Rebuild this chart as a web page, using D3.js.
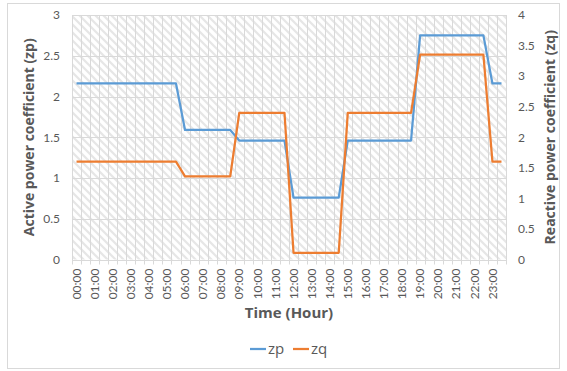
<!DOCTYPE html>
<html>
<head>
<meta charset="utf-8">
<script src="https://cdn.jsdelivr.net/npm/d3@7"></script>
<style>
  html, body { margin: 0; padding: 0; background: #ffffff; }
  svg { display: block; font-family: Lato, "Open Sans", sans-serif; }
</style>
</head>
<body>
<svg id="chart" width="567" height="371"></svg>
<script>
// Half-hour categories over one day
const times = [
  "00:00","00:30","01:00","01:30","02:00","02:30","03:00","03:30",
  "04:00","04:30","05:00","05:30","06:00","06:30","07:00","07:30",
  "08:00","08:30","09:00","09:30","10:00","10:30","11:00","11:30",
  "12:00","12:30","13:00","13:30","14:00","14:30","15:00","15:30",
  "16:00","16:30","17:00","17:30","18:00","18:30","19:00","19:30",
  "20:00","20:30","21:00","21:30","22:00","22:30","23:00","23:30"
];
// Active power coefficient (left axis)
const zp = [
  2.16,2.16,2.16,2.16,2.16,2.16,2.16,2.16,2.16,2.16,2.16,2.16,
  1.59,1.59,1.59,1.59,1.59,1.59,
  1.46,1.46,1.46,1.46,1.46,1.46,
  0.76,0.76,0.76,0.76,0.76,0.76,
  1.46,1.46,1.46,1.46,1.46,1.46,1.46,1.46,
  2.75,2.75,2.75,2.75,2.75,2.75,2.75,2.75,
  2.16,2.16
];
// Reactive power coefficient (right axis)
const zq = [
  1.6,1.6,1.6,1.6,1.6,1.6,1.6,1.6,1.6,1.6,1.6,1.6,
  1.36,1.36,1.36,1.36,1.36,1.36,
  2.4,2.4,2.4,2.4,2.4,2.4,
  0.11,0.11,0.11,0.11,0.11,0.11,
  2.4,2.4,2.4,2.4,2.4,2.4,2.4,2.4,
  3.35,3.35,3.35,3.35,3.35,3.35,3.35,3.35,
  1.6,1.6
];
const leftTicks = [0, 0.5, 1, 1.5, 2, 2.5, 3];
const rightTicks = [0, 0.5, 1, 1.5, 2, 2.5, 3, 3.5, 4];
const seriesNames = ["zp", "zq"];

const colors = { zp: "#5b9bd5", zq: "#ed7d31" };
const textColor = "#595959";
const gridColor = "#d9d9d9";
const titleFont = "'Open Sans', Lato, sans-serif";

const svg = d3.select("#chart");
const plot = { left: 72, right: 506, top: 15, bottom: 259.5 };

const x = d3.scaleBand().domain(d3.range(times.length)).range([plot.left, plot.right]).padding(0);
const yp = d3.scaleLinear().domain([0, 3]).range([plot.bottom, plot.top]);
const yq = d3.scaleLinear().domain([0, 4]).range([plot.bottom, plot.top]);

// Outer chart border
svg.append("rect")
  .attr("x", 7.5).attr("y", 3.5).attr("width", 552).attr("height", 365)
  .attr("fill", "#fff").attr("stroke", gridColor).attr("stroke-width", 1);

// Diagonal hatch fill for the plot area
const defs = svg.append("defs");
const pat = defs.append("pattern")
  .attr("id", "hatch").attr("patternUnits", "userSpaceOnUse")
  .attr("width", 8).attr("height", 8);
pat.append("rect").attr("width", 8).attr("height", 8).attr("fill", "#ffffff");
pat.append("path")
  .attr("d", "M-2,-2 L10,10 M-2,6 L2,10 M6,-2 L10,2")
  .attr("stroke", "#e6e6e6").attr("stroke-width", 2.2);

svg.append("rect")
  .attr("x", plot.left).attr("y", plot.top)
  .attr("width", plot.right - plot.left).attr("height", plot.bottom - plot.top)
  .attr("fill", "url(#hatch)");

// Gridlines
const grid = svg.append("g").attr("stroke", gridColor).attr("stroke-width", 1);
const bounds = d3.range(times.length + 1).map(i => i < times.length ? x(i) : x(times.length - 1) + x.bandwidth());
grid.selectAll("line.v").data(bounds).join("line")
  .attr("x1", d => Math.round(d) + 0.5).attr("x2", d => Math.round(d) + 0.5)
  .attr("y1", plot.top).attr("y2", plot.bottom + 5);
grid.selectAll("line.h").data(leftTicks).join("line")
  .attr("x1", plot.left).attr("x2", plot.right)
  .attr("y1", d => Math.round(yp(d)) + 0.5).attr("y2", d => Math.round(yp(d)) + 0.5);

// Left axis
const leftAxis = svg.append("g")
  .attr("transform", `translate(${plot.left - 12},0)`)
  .call(d3.axisLeft(yp).tickValues(leftTicks).tickSize(0).tickPadding(0).tickFormat(d3.format("")));
leftAxis.select(".domain").remove();
leftAxis.selectAll("text").attr("fill", textColor).style("font-size", "12px").style("font-family", "Lato, sans-serif");

// Right axis
const rightAxis = svg.append("g")
  .attr("transform", `translate(${plot.right + 12},0)`)
  .call(d3.axisRight(yq).tickValues(rightTicks).tickSize(0).tickPadding(0).tickFormat(d3.format("")));
rightAxis.select(".domain").remove();
rightAxis.selectAll("text").attr("fill", textColor).style("font-size", "12px").style("font-family", "Lato, sans-serif");

// Bottom axis: hour labels on every other half-hour category
const hourIdx = d3.range(0, times.length, 2);
const bottomAxis = svg.append("g")
  .attr("transform", `translate(0,${plot.bottom})`)
  .call(d3.axisBottom(x).tickValues(hourIdx).tickSize(0).tickFormat(i => times[i]));
bottomAxis.select(".domain").remove();
bottomAxis.selectAll("text")
  .attr("fill", textColor).style("font-size", "12px").style("font-family", "Lato, sans-serif")
  .attr("text-anchor", "end").attr("dy", "0.35em")
  .attr("transform", "translate(0,9) rotate(-90)")
  .attr("x", 0).attr("y", 0);

// Series lines
const lineP = d3.line().x((d, i) => x(i) + x.bandwidth() / 2).y(d => yp(d));
const lineQ = d3.line().x((d, i) => x(i) + x.bandwidth() / 2).y(d => yq(d));
svg.append("path").datum(zp).attr("d", lineP)
  .attr("fill", "none").attr("stroke", colors.zp).attr("stroke-width", 2.25).attr("stroke-linejoin", "round");
svg.append("path").datum(zq).attr("d", lineQ)
  .attr("fill", "none").attr("stroke", colors.zq).attr("stroke-width", 2.25).attr("stroke-linejoin", "round");

// Axis titles
svg.append("text")
  .attr("transform", `translate(29,${(plot.top + plot.bottom) / 2}) rotate(-90)`)
  .attr("text-anchor", "middle").attr("dy", "0.35em")
  .attr("fill", textColor).style("font-size", "14px").style("font-weight", "bold").style("font-family", titleFont)
  .text("Active power coefficient (zp)");
svg.append("text")
  .attr("transform", `translate(550,${(plot.top + plot.bottom) / 2}) rotate(-90)`)
  .attr("text-anchor", "middle").attr("dy", "0.35em")
  .attr("fill", textColor).style("font-size", "14px").style("font-weight", "bold").style("font-family", titleFont)
  .text("Reactive power coefficient (zq)");
svg.append("text")
  .attr("x", (plot.left + plot.right) / 2).attr("y", 313)
  .attr("text-anchor", "middle").attr("dy", "0.35em")
  .attr("fill", textColor).style("font-size", "15px").style("font-weight", "bold").style("font-family", titleFont)
  .text("Time (Hour)");

// Legend
const legend = svg.append("g").attr("transform", "translate(250,349)");
const legendItems = legend.selectAll("g").data(seriesNames).join("g")
  .attr("transform", (d, i) => `translate(${i * 43},0)`);
legendItems.append("line")
  .attr("x1", 0).attr("x2", 16).attr("y1", 0).attr("y2", 0)
  .attr("stroke", d => colors[d]).attr("stroke-width", 2.25);
legendItems.append("text")
  .attr("x", 18).attr("dy", "0.35em")
  .attr("fill", textColor).style("font-size", "15px").style("font-family", titleFont)
  .text(d => d);
</script>
</body>
</html>
